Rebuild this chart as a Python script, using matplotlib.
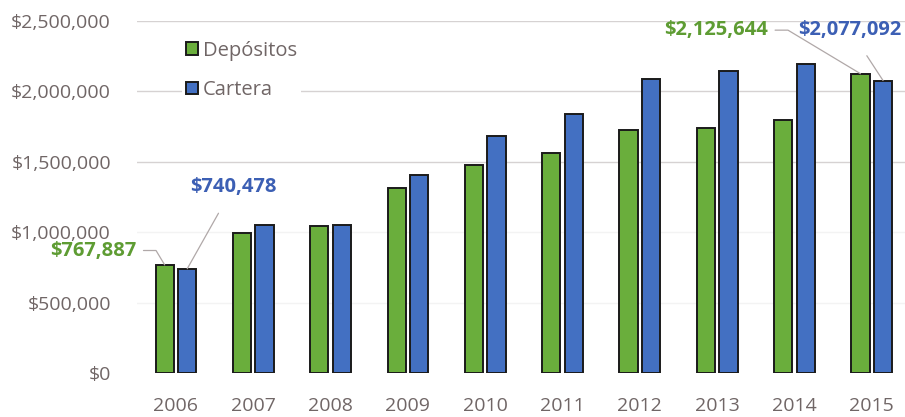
import matplotlib
matplotlib.use("Agg")
import matplotlib.pyplot as plt
import numpy as np
from matplotlib.ticker import FuncFormatter

years = ["2006", "2007", "2008", "2009", "2010", "2011", "2012", "2013", "2014", "2015"]
depositos = [767887, 995000, 1042000, 1315000, 1480000, 1566000, 1728000, 1742000, 1798000, 2125644]
cartera = [740478, 1052000, 1052000, 1407000, 1684000, 1842000, 2090000, 2148000, 2196000, 2077092]
y_ticks = [0, 500000, 1000000, 1500000, 2000000, 2500000]

GREEN = "#6aae3c"
BLUE = "#4370c2"
GREEN_TXT = "#5e9c33"
BLUE_TXT = "#3c5fb4"
TICK_COL = "#706666"
FONT = "Open Sans"

fig = plt.figure(figsize=(9.05, 4.17), dpi=100)
ax = fig.add_axes([137.3 / 905, 44 / 417, (905 - 137.3) / 905, (373 - 21) / 417])

x = np.arange(len(years))
w = 0.235
off = 0.146
ax.bar(x - off, depositos, w, color=GREEN, edgecolor="#1a1a1a", linewidth=1.4,
       label="Depósitos", zorder=3)
ax.bar(x + off, cartera, w, color=BLUE, edgecolor="#1a1a1a", linewidth=1.4,
       label="Cartera", zorder=3)

ax.set_xlim(-0.5, 9.43)
ax.set_ylim(0, 2500000)
ax.set_yticks(y_ticks)
ax.yaxis.set_major_formatter(FuncFormatter(lambda v, p: f"${v:,.0f}"))
ax.set_xticks(x)
ax.set_xticklabels(years)
for s in ax.spines.values():
    s.set_visible(False)
ax.tick_params(length=0, labelsize=14, colors=TICK_COL)
ax.tick_params(axis="y", pad=19)
ax.tick_params(axis="x", pad=17)
for lab in ax.get_xticklabels() + ax.get_yticklabels():
    lab.set_fontfamily(FONT)

# horizontal gridlines; the lower ones are barely visible
for v in y_ticks[1:]:
    col = "#d6d2d2" if v >= 1500000 else "#f3f3f3"
    ax.axhline(v, color=col, linewidth=1.0, zorder=1)

leg = ax.legend(loc="upper left", bbox_to_anchor=(0.058, 0.955), frameon=True,
                prop={"family": FONT, "size": 14.5}, handlelength=0.6, handleheight=0.6,
                handletextpad=0.25, labelspacing=0.95, borderaxespad=0, borderpad=0.2)
leg.get_frame().set_facecolor("white")
leg.get_frame().set_edgecolor("none")
leg.get_frame().set_alpha(1)
for t in leg.get_texts():
    t.set_color(TICK_COL)

lbl = dict(fontsize=14.5, fontweight="bold", family=FONT)
line = dict(arrowstyle="-", color="#b0a8a8", linewidth=0.9)

# first-year labels
ax.annotate(f"${depositos[0]:,}", xy=(x[0] - off, depositos[0]), xytext=(-0.51, 870000),
            color=GREEN_TXT, ha="right", va="center",
            arrowprops=dict(line, connectionstyle="angle,angleA=0,angleB=121,rad=0",
                            shrinkA=3, shrinkB=0), **lbl)
ax.annotate(f"${cartera[0]:,}", xy=(x[0] + off, cartera[0]), xytext=(0.74, 1320000),
            color=BLUE_TXT, ha="center", va="center",
            arrowprops=dict(line, shrinkA=11, shrinkB=0), **lbl)

# last-year labels
ax.annotate(f"${depositos[-1]:,}", xy=(x[-1] - off, depositos[-1]), xytext=(7.66, 2435000),
            color=GREEN_TXT, ha="right", va="center",
            arrowprops=dict(line, connectionstyle="angle,angleA=0,angleB=149,rad=0",
                            shrinkA=3, shrinkB=0), **lbl)
ax.annotate(f"${cartera[-1]:,}", xy=(x[-1] + off, cartera[-1]), xytext=(8.72, 2435000),
            color=BLUE_TXT, ha="center", va="center",
            arrowprops=dict(line, shrinkA=11, shrinkB=0), **lbl)

fig.savefig("out.png", dpi=100, facecolor="white")
